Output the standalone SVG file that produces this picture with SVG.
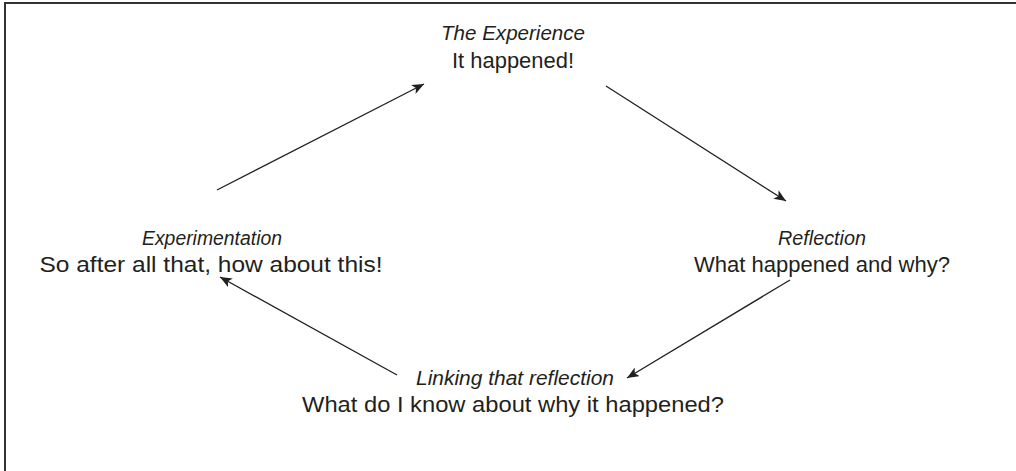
<svg xmlns="http://www.w3.org/2000/svg" width="1016" height="471" viewBox="0 0 1016 471">
<defs>
<style>
text{font-family:"Liberation Sans","Open Sans",sans-serif;font-size:22px;fill:#231f20;text-anchor:middle}
.t{font-style:italic;font-size:20px}
.c{stroke:#231f20;stroke-width:1.3;fill:none}
</style>
<marker id="ah" viewBox="0 0 12 10" refX="12" refY="5" markerWidth="12" markerHeight="10" markerUnits="userSpaceOnUse" orient="auto">
<path d="M0,0 L12,5 L0,10 L3,5 Z" fill="#231f20"/>
</marker>
</defs>
<rect width="1016" height="471" fill="#fff"/>
<path d="M5,471 V3 H1016" stroke="#333" stroke-width="2" fill="none"/>
<g id="experience">
<text x="513" y="40" class="t" textLength="144" lengthAdjust="spacingAndGlyphs">The Experience</text>
<text x="513" y="68" textLength="122" lengthAdjust="spacingAndGlyphs">It happened!</text>
</g>
<g id="reflection">
<text x="822" y="245" class="t" textLength="88" lengthAdjust="spacingAndGlyphs">Reflection</text>
<text x="822" y="272" textLength="256" lengthAdjust="spacingAndGlyphs">What happened and why?</text>
</g>
<g id="linking">
<text x="515" y="385" class="t" textLength="198" lengthAdjust="spacingAndGlyphs">Linking that reflection</text>
<text x="513" y="412" textLength="422" lengthAdjust="spacingAndGlyphs">What do I know about why it happened?</text>
</g>
<g id="experimentation">
<text x="212" y="245" class="t" textLength="140" lengthAdjust="spacingAndGlyphs">Experimentation</text>
<text x="211" y="272" textLength="343" lengthAdjust="spacingAndGlyphs">So after all that, how about this!</text>
</g>
<g id="connectors">
<line class="c" x1="217" y1="190" x2="424" y2="84" marker-end="url(#ah)"/>
<line class="c" x1="606" y1="86" x2="786" y2="201" marker-end="url(#ah)"/>
<line class="c" x1="790" y1="280" x2="627" y2="378" marker-end="url(#ah)"/>
<line class="c" x1="397" y1="375" x2="220" y2="277" marker-end="url(#ah)"/>
</g>
</svg>
